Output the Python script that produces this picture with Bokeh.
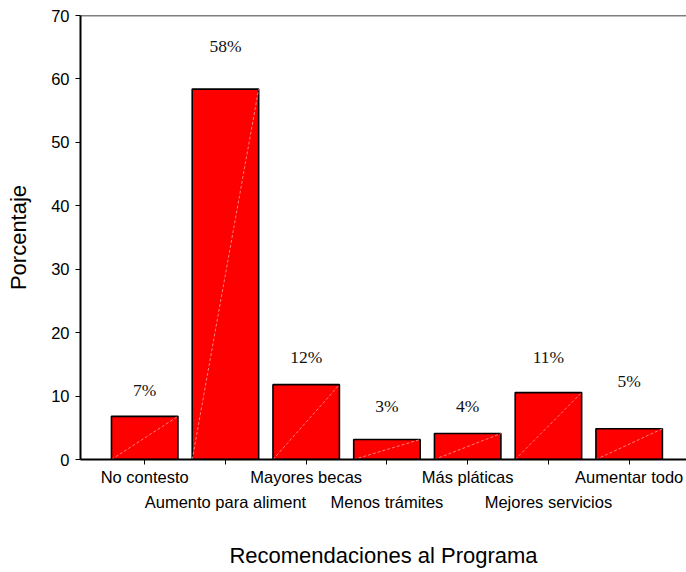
from bokeh.plotting import figure
from bokeh.models import LinearAxis, FixedTicker, Range1d, Span, ColumnDataSource
from bokeh.core.properties import value
from bokeh.embed import file_html
from bokeh.resources import INLINE

categories = ["No contesto", "Aumento para aliment", "Mayores becas", "Menos trámites",
              "Más pláticas", "Mejores servicios", "Aumentar todo"]
values = [6.8, 58.4, 11.8, 3.15, 4.1, 10.55, 4.85]
pct_labels = ["7%", "58%", "12%", "3%", "4%", "11%", "5%"]
label_y = [10.9, 65.2, 16.2, 8.5, 8.5, 16.1, 12.3]
y_ticks = [0, 10, 20, 30, 40, 50, 60, 70]
x_title = "Recomendaciones al Programa"
y_title = "Porcentaje"

bar_w = 0.823
idx = list(range(len(categories)))

src = ColumnDataSource(dict(
    x=idx, top=values,
    x0=[i - bar_w / 2 for i in idx], y0=[0] * len(idx),
    x1=[i + bar_w / 2 for i in idx],
    ly=label_y, lab=pct_labels,
))

p = figure(width=686, height=572, x_range=Range1d(-0.795, 6.71), y_range=Range1d(0, 70),
           output_backend="svg", toolbar_location=None, x_axis_type=None,
           min_border_left=80, min_border_right=0, min_border_top=15, min_border_bottom=113)
p.outline_line_color = None
p.xgrid.visible = False
p.ygrid.visible = False
p.background_fill_color = "white"
p.border_fill_color = "white"

p.vbar(x="x", top="top", width=bar_w, source=src, fill_color="#ff0000",
       line_color="black", line_width=1.6)
p.segment(x0="x0", y0="y0", x1="x1", y1="top", source=src, line_color="#ffa0a0",
          line_width=0.8, line_dash="3 2")
p.text(x="x", y="ly", text="lab", source=src, text_align="center", text_baseline="middle",
       text_font=value("Liberation Serif"), text_font_size="17.5px", text_color="#111111")

p.add_layout(Span(location=70, dimension="width", line_color="black", line_width=1.5))

# y axis
ya = p.yaxis[0]
ya.ticker = FixedTicker(ticks=y_ticks)
ya.axis_label = y_title
ya.axis_label_text_font = "Liberation Sans"
ya.axis_label_text_font_style = "normal"
ya.axis_label_text_font_size = "22px"
ya.axis_label_text_color = "black"
ya.axis_label_standoff = 17
ya.major_label_text_font = "Liberation Sans"
ya.major_label_text_font_size = "16.5px"
ya.major_label_text_color = "black"
ya.axis_line_width = 2
ya.major_tick_in = 0
ya.major_tick_out = 5
ya.minor_tick_line_color = None
ya.major_label_standoff = 6

# x axis, row 1 (with ticks)
xa1 = LinearAxis(ticker=FixedTicker(ticks=idx))
xa1.major_label_overrides = {i: (categories[i] if i % 2 == 0 else "") for i in idx}
xa1.major_label_text_font = "Liberation Sans"
xa1.major_label_text_font_size = "16.5px"
xa1.major_label_text_color = "black"
xa1.axis_line_width = 2
xa1.major_tick_in = 0
xa1.major_tick_out = 5
xa1.minor_tick_line_color = None
xa1.major_label_standoff = 3
p.add_layout(xa1, "below")

# x axis, row 2 (staggered labels)
xa2 = LinearAxis(ticker=FixedTicker(ticks=[i for i in idx if i % 2 == 1]))
xa2.major_label_overrides = {i: categories[i] for i in idx if i % 2 == 1}
xa2.major_label_text_font = "Liberation Sans"
xa2.major_label_text_font_size = "16.5px"
xa2.major_label_text_color = "black"
xa2.axis_line_color = None
xa2.major_tick_line_color = None
xa2.minor_tick_line_color = None
xa2.major_tick_in = 0
xa2.major_tick_out = 0
xa2.major_label_standoff = 4
xa2.axis_label = x_title
xa2.axis_label_text_font = "Liberation Sans"
xa2.axis_label_text_font_style = "normal"
xa2.axis_label_text_font_size = "22px"
xa2.axis_label_text_color = "black"
xa2.axis_label_standoff = 29
p.add_layout(xa2, "below")

open("out.html", "w").write(file_html(p, INLINE))
